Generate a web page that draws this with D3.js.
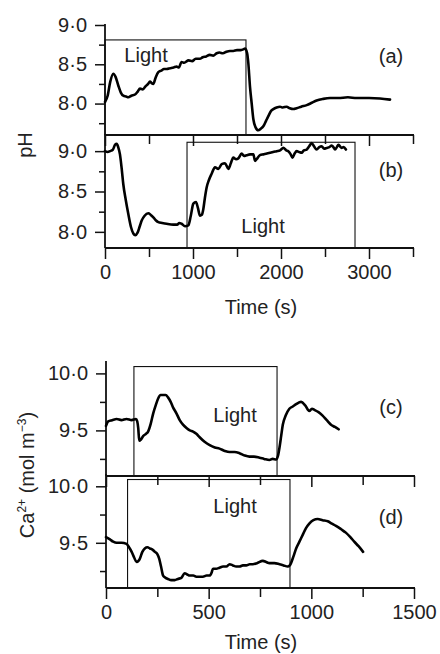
<!DOCTYPE html>
<html>
<head>
<meta charset="utf-8">
<script src="https://cdn.jsdelivr.net/npm/d3@7/dist/d3.min.js"></script>
<style>
  html, body { margin: 0; padding: 0; background: #fff; }
  svg { display: block; }
  text { font-family: "Liberation Sans", Arial, Helvetica, sans-serif; fill: #222; }
</style>
</head>
<body>
<svg id="chart" width="440" height="654"></svg>
<script>
// ---------------- DATA ----------------
// Panel (a): pH, light on 0–1600 s
const timeA = [0,30,60,95,120,151,180,208,240,265,300,341,370,398,430,460,490,511,530,549,575,606,640,670,700,740,780,814,840,870,900,950,990,1030,1078,1110,1150,1190,1230,1269,1300,1340,1380,1420,1458,1500,1540,1570,1591,1605,1615,1629,1648,1667,1686,1710,1742,1770,1799,1830,1856,1890,1913,1950,1989,2020,2064,2100,2140,2178,2230,2292,2350,2405,2480,2557,2650,2760,2860,3000,3125,3239];
const pHA   = [8.02,8.10,8.28,8.38,8.34,8.23,8.14,8.10,8.09,8.08,8.10,8.115,8.15,8.19,8.18,8.22,8.25,8.28,8.26,8.25,8.33,8.40,8.42,8.44,8.44,8.45,8.46,8.47,8.46,8.53,8.52,8.55,8.54,8.57,8.57,8.59,8.60,8.62,8.61,8.64,8.65,8.64,8.66,8.67,8.67,8.68,8.68,8.69,8.70,8.68,8.64,8.51,8.21,8.00,7.80,7.70,7.66,7.68,7.71,7.78,7.84,7.91,7.93,7.95,7.96,7.95,7.96,7.94,7.93,7.94,7.96,7.98,8.01,8.04,8.06,8.07,8.07,8.08,8.07,8.07,8.065,8.05];
const lightA = [0, 1602], lightTopA = 8.81;

// Panel (b): pH, light on ~930–2840 s
const timeB = [0,30,57,90,115,133,150,170,190,208,235,265,295,322,345,370,395,417,450,492,520,549,580,606,650,700,776,820,844,870,909,947,975,1004,1034,1055,1080,1100,1117,1135,1155,1180,1212,1250,1288,1326,1364,1402,1430,1458,1490,1515,1553,1580,1610,1648,1686,1705,1723,1761,1800,1840,1875,1910,1951,1990,2027,2060,2083,2110,2131,2155,2178,2205,2235,2260,2292,2320,2348,2375,2405,2435,2462,2490,2519,2550,2576,2595,2614,2635,2652,2670,2689,2710,2738];
const pHB   = [9.00,8.99,9.00,9.02,9.08,9.09,9.05,8.96,8.78,8.59,8.40,8.22,8.06,7.98,7.96,7.99,8.07,8.14,8.20,8.23,8.21,8.18,8.14,8.12,8.11,8.10,8.09,8.09,8.11,8.10,8.07,8.08,8.20,8.35,8.37,8.30,8.20,8.21,8.28,8.42,8.55,8.64,8.72,8.80,8.78,8.84,8.85,8.78,8.85,8.92,8.90,8.91,8.97,8.94,8.95,8.96,8.96,8.88,8.90,8.95,8.96,8.97,8.98,8.99,9.00,9.01,9.04,9.01,9.00,8.96,8.92,8.97,9.00,8.99,8.98,9.01,9.02,9.06,9.10,9.06,9.02,9.05,9.06,9.03,9.04,9.05,9.07,9.05,9.02,9.05,9.08,9.06,9.04,9.05,9.02];
const lightB = [932, 2841], lightTopB = 9.11;

// Panel (c): Ca2+, light on ~136–833 s
const timeC = [0,11,30,52,75,100,125,146,152,157,162,170,181,195,205,218,230,242,254,266,278,290,302,315,327,343,359,375,392,408,424,440,456,480,505,530,553,578,602,626,650,675,699,720,748,770,796,812,828,838,845,853,861,875,893,910,926,950,970,990,1003,1015,1035,1055,1075,1096,1115,1133];
const caC   = [9.54,9.58,9.59,9.60,9.59,9.60,9.59,9.60,9.58,9.52,9.41,9.42,9.45,9.47,9.49,9.56,9.65,9.72,9.78,9.81,9.81,9.81,9.79,9.75,9.70,9.65,9.59,9.55,9.52,9.50,9.49,9.47,9.44,9.40,9.37,9.35,9.34,9.32,9.31,9.31,9.30,9.28,9.27,9.27,9.26,9.25,9.24,9.25,9.245,9.28,9.35,9.45,9.55,9.63,9.69,9.71,9.73,9.75,9.72,9.67,9.69,9.68,9.66,9.63,9.59,9.55,9.53,9.51];
const lightC = [136, 833], lightTopC = 10.06;

// Panel (d): Ca2+, light on ~105–896 s
const timeD = [0,19,35,52,75,100,112,125,137,149,158,165,177,189,202,214,226,238,250,259,268,278,290,302,318,335,350,367,383,395,408,425,440,456,472,490,505,515,521,537,553,570,586,602,618,634,650,667,683,700,715,735,764,780,796,820,845,865,885,895,901,913,926,942,958,974,990,1010,1031,1055,1080,1100,1120,1145,1168,1190,1209,1230,1252];
const caD   = [9.55,9.53,9.51,9.50,9.50,9.49,9.46,9.42,9.37,9.33,9.34,9.36,9.42,9.45,9.46,9.45,9.44,9.42,9.40,9.36,9.29,9.21,9.19,9.18,9.17,9.17,9.18,9.19,9.23,9.22,9.21,9.21,9.20,9.20,9.20,9.21,9.21,9.24,9.27,9.27,9.28,9.29,9.29,9.31,9.30,9.29,9.29,9.30,9.30,9.31,9.31,9.32,9.34,9.33,9.32,9.32,9.31,9.30,9.29,9.30,9.32,9.38,9.45,9.51,9.57,9.63,9.67,9.70,9.71,9.70,9.69,9.67,9.65,9.62,9.59,9.55,9.51,9.47,9.42];
const lightD = [105, 896], lightTopD = 10.06;

// Ticks
const pHMajor = [8.0, 8.5, 9.0];
const pHMinor = [7.75, 8.25, 8.75];
const caMajor = [9.5, 10.0];
const caMinor = [9.25, 9.75];
const timeMajorPH = [0, 1000, 2000, 3000];
const timeMinorPH = [500, 1500, 2500, 3500];
const timeMajorCa = [0, 500, 1000, 1500];
const timeMinorCa = [250, 750, 1250];

const panelLabels = ["(a)", "(b)", "(c)", "(d)"];
const lightLabel = "Light";
const xTitle = "Time (s)";

// ---------------- DRAW ----------------
const svg = d3.select("#chart");
const FS = 20;
const fmt = v => d3.format(".1f")(v).replace(".", "\u00B7");

const xPH = d3.scaleLinear().domain([0, 3500]).range([105, 413]);
const xCa = d3.scaleLinear().domain([0, 1500]).range([106, 414]);

const panels = [
  {x: xPH, t: timeA, v: pHA, light: lightA, lightTop: lightTopA, yDom: [7.6, 9.0], yRange: [135, 25],
   major: pHMajor, minor: pHMinor, xMajor: timeMajorPH, xMinor: timeMinorPH, xLabels: false,
   label: panelLabels[0], labelY: 63, lightX: 146, lightY: 62},
  {x: xPH, t: timeB, v: pHB, light: lightB, lightTop: lightTopB, yDom: [7.8, 9.2], yRange: [248, 135],
   major: pHMajor, minor: pHMinor, xMajor: timeMajorPH, xMinor: timeMinorPH, xLabels: true,
   label: panelLabels[1], labelY: 177, lightX: 263, lightY: 233},
  {x: xCa, t: timeC, v: caC, light: lightC, lightTop: lightTopC, yDom: [9.1, 10.1], yRange: [476, 362],
   major: caMajor, minor: caMinor, xMajor: timeMajorCa, xMinor: timeMinorCa, xLabels: false,
   label: panelLabels[2], labelY: 414, lightX: 235, lightY: 422},
  {x: xCa, t: timeD, v: caD, light: lightD, lightTop: lightTopD, yDom: [9.1, 10.1], yRange: [588, 475],
   major: caMajor, minor: caMinor, xMajor: timeMajorCa, xMinor: timeMinorCa, xLabels: true,
   label: panelLabels[3], labelY: 524, lightX: 235, lightY: 513}
];

panels.forEach(p => {
  const y = d3.scaleLinear().domain(p.yDom).range(p.yRange);
  const x = p.x;
  const g = svg.append("g");
  const x0 = x.range()[0];
  const yb = p.yRange[0];

  // light box
  g.append("rect")
    .attr("x", x(p.light[0])).attr("y", y(p.lightTop))
    .attr("width", x(p.light[1]) - x(p.light[0]))
    .attr("height", yb - y(p.lightTop))
    .attr("fill", "none").attr("stroke", "#111").attr("stroke-width", 1.1);

  g.append("text").attr("x", p.lightX).attr("y", p.lightY)
    .attr("text-anchor", "middle").attr("font-size", FS).text(lightLabel);

  // y axis: major
  const yMaj = g.append("g").attr("transform", `translate(${x0},0)`)
    .call(d3.axisLeft(y).tickValues(p.major.filter(v => v >= p.yDom[0] && v <= p.yDom[1]))
      .tickFormat(fmt).tickSize(10).tickPadding(8).tickSizeOuter(0));
  yMaj.select(".domain").remove();
  yMaj.selectAll("line").attr("stroke", "#111").attr("stroke-width", 1.5);
  yMaj.selectAll("text").attr("font-size", FS).attr("font-family", null).attr("fill", "#222");
  const yMin = g.append("g").attr("transform", `translate(${x0},0)`)
    .call(d3.axisLeft(y).tickValues(p.minor.filter(v => v >= p.yDom[0] && v <= p.yDom[1]))
      .tickFormat("").tickSize(6).tickSizeOuter(0));
  yMin.select(".domain").remove();
  yMin.selectAll("line").attr("stroke", "#111").attr("stroke-width", 1.5);
  g.append("line").attr("x1", x0).attr("x2", x0)
    .attr("y1", yb).attr("y2", p.yRange[1] - 1)
    .attr("stroke", "#111").attr("stroke-width", 1.8);

  // x axis
  const xMaj = g.append("g").attr("transform", `translate(0,${yb})`)
    .call(d3.axisBottom(x).tickValues(p.xMajor).tickSize(11).tickPadding(6).tickSizeOuter(0)
      .tickFormat(p.xLabels ? d3.format("d") : ""));
  xMaj.select(".domain").remove();
  xMaj.selectAll("line").attr("stroke", "#111").attr("stroke-width", 1.5);
  xMaj.selectAll("text").attr("font-size", FS).attr("font-family", null).attr("fill", "#222");
  const xMin = g.append("g").attr("transform", `translate(0,${yb})`)
    .call(d3.axisBottom(x).tickValues(p.xMinor).tickSize(9).tickFormat("").tickSizeOuter(0));
  xMin.select(".domain").remove();
  xMin.selectAll("line").attr("stroke", "#111").attr("stroke-width", 1.5);
  g.append("line").attr("x1", x0).attr("x2", x.range()[1] + 1)
    .attr("y1", yb).attr("y2", yb)
    .attr("stroke", "#111").attr("stroke-width", 1.8);

  // data line
  const line = d3.line().x((d, i) => x(p.t[i])).y(d => y(d)).curve(d3.curveMonotoneX);
  g.append("path").datum(p.v).attr("d", line)
    .attr("fill", "none").attr("stroke", "#000").attr("stroke-width", 2.6)
    .attr("stroke-linejoin", "round").attr("stroke-linecap", "round");

  // panel label
  g.append("text").attr("x", 391).attr("y", p.labelY)
    .attr("text-anchor", "middle").attr("font-size", FS).text(p.label);
});

// x titles
svg.append("text").attr("x", 261).attr("y", 314).attr("text-anchor", "middle")
  .attr("font-size", FS).text(xTitle);
svg.append("text").attr("x", 261).attr("y", 649).attr("text-anchor", "middle")
  .attr("font-size", FS).text(xTitle);

// y titles
svg.append("text").attr("transform", "translate(32,145) rotate(-90)")
  .attr("text-anchor", "middle").attr("font-size", FS).text("pH");
const caT = svg.append("text").attr("transform", "translate(34,475) rotate(-90)")
  .attr("text-anchor", "middle").attr("font-size", FS);
caT.append("tspan").text("Ca");
caT.append("tspan").attr("font-size", 12).attr("dy", -8).text("2+");
caT.append("tspan").attr("dy", 8).text(" (mol m");
caT.append("tspan").attr("font-size", 12).attr("dy", -8).text("\u22123");
caT.append("tspan").attr("dy", 8).text(")");
</script>
</body>
</html>
